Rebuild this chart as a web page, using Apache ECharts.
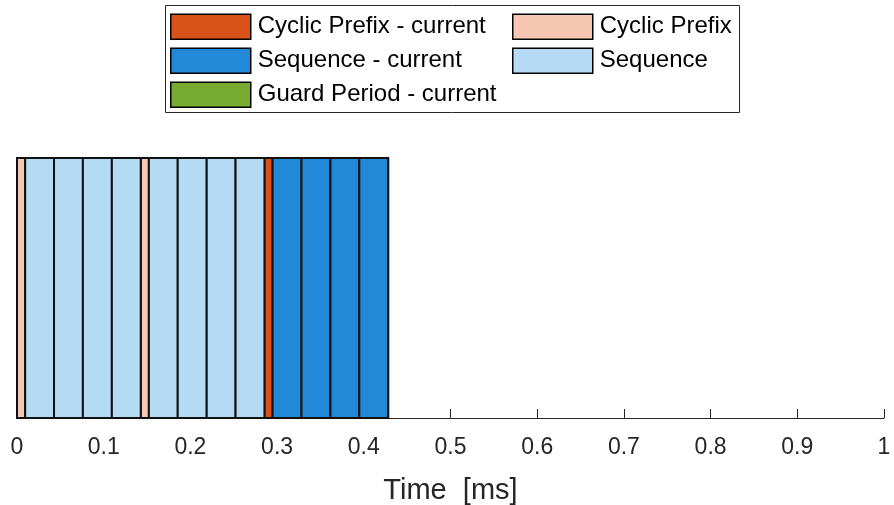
<!DOCTYPE html>
<html>
<head>
<meta charset="utf-8">
<script src="https://cdn.jsdelivr.net/npm/echarts@6/dist/echarts.min.js"></script>
<style>html,body{margin:0;padding:0;background:#fff}#c{width:894px;height:505px}</style>
</head>
<body>
<div id="c"></div>
<script>
// Segment [start, end] times in ms
const cyclicPrefixPrev = [[0.0000, 0.0094], [0.1427, 0.1521]];
const sequencePrev = [[0.0094, 0.0427], [0.0427, 0.0760], [0.0760, 0.1094], [0.1094, 0.1427],
                      [0.1521, 0.1854], [0.1854, 0.2188], [0.2188, 0.2521], [0.2521, 0.2854]];
const cyclicPrefixCur = [[0.2854, 0.2948]];
const sequenceCur = [[0.2948, 0.3281], [0.3281, 0.3615], [0.3615, 0.3948], [0.3948, 0.4281]];
const guardPeriodCur = [[0.4281, 0.4281]];
const tickValues = [0, 0.1, 0.2, 0.3, 0.4, 0.5, 0.6, 0.7, 0.8, 0.9, 1];
const tickLabels = ['0', '0.1', '0.2', '0.3', '0.4', '0.5', '0.6', '0.7', '0.8', '0.9', '1'];

const FONT = 'Liberation Sans, Arial, Helvetica, sans-serif';

function rectSeries(name, data, color) {
  return {
    type: 'custom',
    name: name,
    data: data,
    encode: { x: [0, 1] },
    itemStyle: { color: color, borderColor: '#000', borderWidth: 1.5 },
    renderItem: function (params, api) {
      const a = api.coord([api.value(0), 1]);
      const b = api.coord([api.value(1), 0]);
      return {
        type: 'rect',
        shape: { x: a[0], y: a[1], width: b[0] - a[0], height: b[1] - a[1] },
        style: { fill: color, stroke: '#111', lineWidth: 2 }
      };
    }
  };
}

const chart = echarts.init(document.getElementById('c'), null, { renderer: 'canvas' });
const legendCommon = {
  orient: 'vertical',
  top: 13.5,
  padding: 0,
  itemWidth: 80,
  itemHeight: 25,
  itemGap: 7.5,
  icon: 'rect',
  selectedMode: false,
  itemStyle: { borderColor: '#000', borderWidth: 1.5 },
  textStyle: { fontFamily: FONT, fontSize: 24, lineHeight: 25, color: '#000', padding: [0, 0, 0, 2] }
};
chart.setOption({
  animation: false,
  backgroundColor: '#fff',
  graphic: [{
    type: 'rect', z: -1, left: 165, top: 5,
    shape: { width: 574, height: 107 },
    style: { fill: '#fff', stroke: '#262626', lineWidth: 1 }
  }],
  legend: [
    Object.assign({}, legendCommon, { left: 170, data: ['Cyclic Prefix - current', 'Sequence - current', 'Guard Period - current'] }),
    Object.assign({}, legendCommon, { left: 512, data: ['Cyclic Prefix', 'Sequence'] })
  ],
  grid: { left: 17, right: 10, top: 158, bottom: 87, containLabel: false, outerBoundsMode: 'none' },
  xAxis: {
    type: 'value', min: 0, max: 1, interval: 0.1,
    name: 'Time  [ms]', nameLocation: 'middle', nameGap: 58,
    nameTextStyle: { fontFamily: FONT, fontSize: 29, color: '#262626' },
    axisLine: { show: true, lineStyle: { color: '#262626', width: 1 } },
    axisTick: { show: true, inside: true, length: 9, lineStyle: { color: '#262626', width: 1 } },
    axisLabel: {
      fontFamily: FONT, fontSize: 23, color: '#262626', margin: 18,
      formatter: function (v) {
        const i = tickValues.findIndex(t => Math.abs(t - v) < 1e-9);
        return i >= 0 ? tickLabels[i] : '';
      }
    },
    splitLine: { show: false }
  },
  yAxis: { type: 'value', min: 0, max: 1, show: false },
  series: [
    rectSeries('Cyclic Prefix - current', cyclicPrefixCur, '#D95319'),
    rectSeries('Sequence - current', sequenceCur, '#2289D8'),
    rectSeries('Guard Period - current', guardPeriodCur, '#77AC30'),
    rectSeries('Cyclic Prefix', cyclicPrefixPrev, '#F5C6B2'),
    rectSeries('Sequence', sequencePrev, '#B5DAF3')
  ]
});
</script>
</body>
</html>
